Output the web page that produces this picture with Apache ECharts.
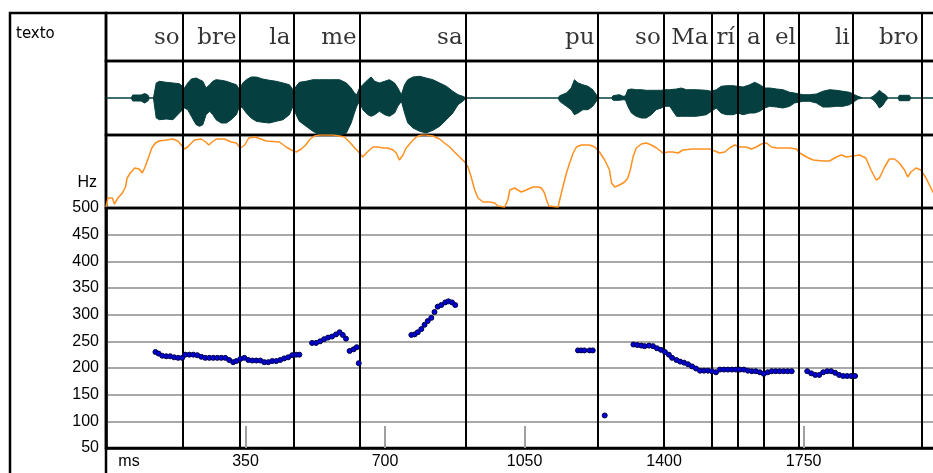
<!DOCTYPE html>
<html><head><meta charset="utf-8">
<script src="https://cdn.jsdelivr.net/npm/echarts@6.0.0/dist/echarts.min.js"></script>
<style>html,body{margin:0;padding:0;background:#fff}#c{width:933px;height:473px}</style>
</head><body><div id="c"></div>
<script>
// ---- data ----
const syllables = ['so','bre','la','me','sa','pu','so','Ma','rí','a','el','li','bro'];
const syllableEnds = [192, 335, 470, 636, 902, 1233, 1399, 1519, 1585, 1650, 1738, 1873, 2046];

const xTickValues = [0, 350, 700, 1050, 1400, 1750];
const xTickLabels = ['ms', '350', '700', '1050', '1400', '1750'];
const hzTicks = [50, 100, 150, 200, 250, 300, 350, 400, 450, 500];

const pitchTime = [124,132,141,151,161,171,181,191,199,209,219,229,239,249,259,269,279,289,299,309,319,327,337,347,357,367,377,387,397,407,417,427,437,447,457,467,477,485,
  517,527,537,547,557,567,577,586,594,602,611,621,629,634,
  766,774,782,791,799,807,816,824,832,841,851,859,868,876,
  1184,1192,1200,1213,1221,
  1251,
  1323,1333,1343,1351,1362,1372,1382,1392,1402,1412,1420,1431,1440,1450,1460,1470,1480,1490,1500,1510,1520,1530,1540,1550,1560,1570,1580,1590,1600,1610,1620,1630,1640,1650,1660,1670,1680,1690,1700,1710,1720,
  1759,1769,1779,1789,1799,1809,1819,1829,1839,1849,1859,1869,1879];
const pitchHz = [230,227,223,222,222,220,219,219,225,225,225,224,221,219,219,219,219,219,219,215,211,213,217,219,215,214,214,214,211,211,213,213,215,218,220,224,225,225,
  247,247,250,254,257,259,263,267,262,255,232,235,239,209,
  262,263,267,273,281,288,294,305,315,318,323,325,323,318,
  233,233,233,233,233,
  111,
  244,243,242,241,242,241,237,234,230,225,219,215,212,210,207,203,199,195,195,195,194,192,197,197,197,197,197,197,197,195,194,194,192,189,192,194,194,194,194,194,194,
  194,190,187,187,192,194,194,191,187,185,185,185,185];

const intensityTime = [0,5,16,21,30,41,49,53,61,72,83,91,98,107,115,124,133,151,168,180,189,197,205,214,222,239,250,258,266,277,297,314,327,337,348,358,373,389,402,435,452,465,477,490,501,512,523,536,552,569,586,598,611,624,636,644,653,661,670,682,695,707,720,728,736,745,753,766,778,791,803,820,837,849,862,874,887,900,908,916,925,933,946,962,975,983,1000,1008,1013,1025,1033,1042,1054,1071,1084,1092,1100,1105,1111,1134,1138,1146,1155,1163,1172,1180,1192,1213,1226,1238,1251,1263,1268,1276,1288,1301,1309,1315,1322,1330,1343,1355,1368,1381,1397,1410,1422,1435,1447,1472,1514,1527,1539,1552,1564,1577,1590,1606,1619,1631,1644,1657,1669,1682,1715,1732,1740,1757,1774,1799,1815,1832,1845,1857,1873,1890,1906,1919,1932,1940,1953,1965,1978,1990,2003,2011,2019,2032,2044,2057,2074,2087];
const intensityLevel = [1,10,10,4,10,15,21,30,35,40,39,35,41,51,60,65,67,68,69,67,63,59,61,65,68,69,66,63,66,69,69,66,65,60,63,70,71,69,67,66,61,58,56,59,63,69,72,73,73,73,72,71,66,60,55,51,55,58,61,61,60,60,58,55,48,53,60,66,71,73,73,72,69,65,61,56,51,46,41,31,18,10,6,6,5,2,1,8,18,20,18,16,18,21,21,20,15,8,2,1,8,21,35,45,55,61,63,63,61,56,48,38,25,21,23,26,30,38,51,60,64,65,63,60,55,56,56,55,58,59,59,57,55,56,60,63,61,61,59,61,64,65,61,60,60,59,55,51,48,47,47,51,53,51,52,53,50,38,28,30,41,49,49,45,38,31,36,40,38,30,16,10];

const waveTime = [0,63,67,88,97,105,109,119,126,134,151,168,184,197,205,214,226,235,243,251,260,268,276,289,302,314,327,335,343,352,364,377,393,410,427,444,460,469,477,485,502,519,536,561,586,603,615,623,629,636,644,657,665,674,686,699,711,724,732,741,749,757,770,787,803,820,837,854,870,883,895,904,1066,1071,1076,1134,1138,1155,1167,1175,1184,1196,1209,1221,1230,1238,1268,1272,1288,1297,1303,1309,1318,1330,1343,1355,1368,1380,1393,1401,1414,1431,1443,1456,1481,1506,1518,1531,1543,1556,1573,1585,1598,1615,1627,1640,1652,1665,1682,1698,1715,1727,1736,1748,1765,1782,1798,1815,1832,1849,1865,1878,1886,1899,1916,1924,1932,1940,1948,1955,1962,1987,1990,2015,2019,2087];
const waveUp = [0,0,3,3,4.5,3,0,0,15,16.7,15.7,15,14.3,10,15,19,20,18.3,16.7,10,13.3,16.7,18.3,17.7,16.7,15,13.3,8.3,15,18.3,21,21,19,17.7,16.7,15,13.3,8.3,11.7,15.7,16.7,18.3,18.3,18.3,18.3,15,10,5,3.3,10,13.3,18.3,21,16.7,15,16.7,18.3,15,10,3.3,13.3,18.3,21,21.7,20,18.3,15,11.7,6.7,3.3,1.7,0,0,1.7,0,0,2.3,5,10,18.3,15,13.3,11.7,8.3,3.3,0,0,2.3,3.3,1.7,2,8.3,9,8.3,8.3,7.7,7.7,7.7,7.7,8.3,8.3,9,10,8.3,8.3,7.7,6.7,8.3,11.7,12.3,12.3,11.7,11,13.3,15.7,13.3,10,10,9,8.3,5.7,5,4.3,3.3,3.3,4,6.7,8.3,7.7,6.7,5.7,3.3,1.7,0,0,1.7,4.3,7.7,5,3.3,0,0,2.7,2.7,0,0];
const waveDown = [0,0,3,3,5,3,0,0,20,21.7,21,21.7,15,10,11.7,18.3,26.7,28.3,26.7,16.7,13.3,16.7,21.7,25,25,21.7,16.7,8.3,10,15,20,23.3,24.3,25,23.3,21.7,16.7,8.3,16.7,23.3,28.3,33.3,37,37,37,35,25,15,8.3,3.3,11.7,16.7,18.3,16.7,13.3,16.7,18.3,15,8.3,3.3,15,25,30,33.3,35,32.3,28.3,21.7,15,6.7,3.3,0,0,1.7,0,0,3.3,8.3,11.7,16.7,15,11.7,11.7,8.3,3.3,0,0,2.3,2.3,1.7,2,8.3,15,18.3,20,20,16.7,11.7,10,8.3,8.3,18.3,18.3,18.3,18.3,16.7,13.3,10,15,16.7,16.7,15,16.7,15,15,13.3,10,8.3,9,10,8.3,5,4.3,3.3,3.3,5,9,9,8.3,8.3,6.7,3.3,1,0,0,1.7,5,10,7.7,3.3,0,0,2.7,2.7,0,0];

// ---- chart ----
const X_MAX = 2087;
const INK = '#000';
const WAVE = '#053f3f';
const baseGrid = { left: 106, width: 832, show: true, borderColor: INK, borderWidth: 2.5, backgroundColor: 'transparent', containLabel: false, outerBoundsMode: 'none' };
const hiddenX = (i) => ({ type: 'value', gridIndex: i, min: 0, max: X_MAX, show: false });

const chart = echarts.init(document.getElementById('c'), null, { renderer: 'canvas' });
chart.setOption({
  animation: false,
  backgroundColor: '#ffffff',
  title: { text: 'texto', left: 16, top: 27, padding: 0,
    textStyle: { fontFamily: 'DejaVu Sans', fontSize: 15, fontWeight: 'normal', color: INK } },
  graphic: [{ type: 'rect', shape: { x: 10, y: 13, width: 96, height: 480 },
    style: { fill: 'none', stroke: INK, lineWidth: 2.5 }, silent: true }],
  grid: [
    Object.assign({}, baseGrid, { top: 13, height: 48 }),
    Object.assign({}, baseGrid, { top: 61, height: 74 }),
    Object.assign({}, baseGrid, { top: 135, height: 73 }),
    Object.assign({}, baseGrid, { top: 208, height: 240 }),
    { left: 106, width: 832, top: 13, height: 435, show: false, containLabel: false, outerBoundsMode: 'none' }
  ],
  xAxis: [
    hiddenX(0), hiddenX(1), hiddenX(2),
    { type: 'value', gridIndex: 3, min: 0, max: X_MAX, interval: 350,
      axisLine: { show: true, lineStyle: { color: INK, width: 2.5 } },
      axisTick: { show: true, inside: true, length: 22, customValues: xTickValues.slice(1),
        lineStyle: { color: '#a0a0a0', width: 2 } },
      splitLine: { show: false },
      axisLabel: { show: true, margin: 6, color: INK, fontSize: 16, fontFamily: 'Liberation Sans',
        customValues: xTickValues,
        formatter: (v) => {
          const idx = xTickValues.indexOf(v);
          if (idx < 0) return '';
          return idx === 0 ? '{ms|' + xTickLabels[idx] + '}' : xTickLabels[idx];
        },
        rich: { ms: { padding: [0, 0, 0, 46], fontSize: 16, fontFamily: 'Liberation Sans', color: INK } } } },
    hiddenX(4)
  ],
  yAxis: [
    { type: 'value', gridIndex: 0, min: 0, max: 1, show: false },
    { type: 'value', gridIndex: 1, min: -37, max: 37, show: false },
    { type: 'value', gridIndex: 2, min: 0, max: 73, show: false },
    { type: 'value', gridIndex: 3, min: hzTicks[0], max: hzTicks[hzTicks.length - 1], interval: 50,
      name: 'Hz', nameLocation: 'end', nameGap: 17,
      nameTextStyle: { align: 'right', padding: [0, 9, 0, 0], fontSize: 16, fontFamily: 'Liberation Sans', color: INK },
      axisLine: { show: true, lineStyle: { color: INK, width: 2.5 } },
      axisTick: { show: false },
      axisLabel: { show: true, margin: 7, color: INK, fontSize: 16, fontFamily: 'Liberation Sans' },
      splitLine: { show: true, showMinLine: false, showMaxLine: false, lineStyle: { color: '#a8a8a8', width: 2 } } },
    { type: 'value', gridIndex: 4, min: 0, max: 1, show: false }
  ],
  series: [
    { type: 'scatter', xAxisIndex: 0, yAxisIndex: 0, symbolSize: 0, silent: true, z: 6,
      data: syllables.map((s, i) => ({ name: s, value: [syllableEnds[i], 0.47] })),
      label: { show: true, position: 'left', distance: 3, formatter: '{b}',
        fontFamily: 'DejaVu Serif', fontSize: 23, color: INK } },
    { type: 'line', xAxisIndex: 1, yAxisIndex: 1, symbol: 'none', silent: true,
      data: waveTime.map((t, i) => [t, waveUp[i]]),
      lineStyle: { color: WAVE, width: 1 }, areaStyle: { color: WAVE, opacity: 1 } },
    { type: 'line', xAxisIndex: 1, yAxisIndex: 1, symbol: 'none', silent: true,
      data: waveTime.map((t, i) => [t, -waveDown[i]]),
      lineStyle: { color: WAVE, width: 1 }, areaStyle: { color: WAVE, opacity: 1 } },
    { type: 'line', xAxisIndex: 2, yAxisIndex: 2, symbol: 'none', silent: true,
      data: intensityTime.map((t, i) => [t, intensityLevel[i]]),
      lineStyle: { color: '#ff9020', width: 1.5 } },
    { type: 'line', xAxisIndex: 4, yAxisIndex: 4, symbol: 'none', silent: true, z: 5,
      data: [[0, 0]], lineStyle: { opacity: 0 },
      markLine: { silent: true, symbol: ['none', 'none'], label: { show: false }, animation: false,
        lineStyle: { color: INK, width: 2, type: 'solid' },
        data: syllableEnds.map((t) => ({ xAxis: t })) } },
    { type: 'scatter', xAxisIndex: 3, yAxisIndex: 3, symbolSize: 5, silent: true, z: 10,
      data: pitchTime.map((t, i) => [t, pitchHz[i]]),
      itemStyle: { color: '#0000dd', borderColor: '#000044', borderWidth: 1, opacity: 1 } }
  ]
});
</script>
</body></html>
